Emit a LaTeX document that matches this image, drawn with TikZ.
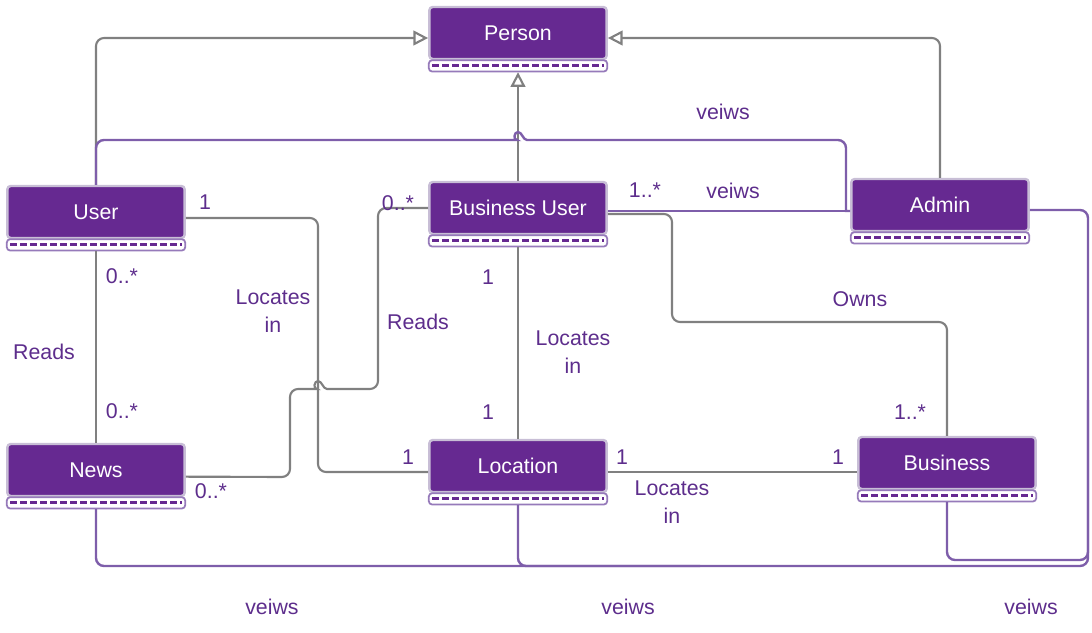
\documentclass[tikz,border=0pt]{standalone}
\usepackage{fontspec}
\setmainfont{Liberation Sans}
\usetikzlibrary{arrows.meta}

\definecolor{clsfill}{RGB}{102,41,145}
\definecolor{clsedge}{RGB}{200,190,214}
\definecolor{footrim}{RGB}{150,122,186}
\definecolor{linkgray}{RGB}{128,128,128}
\definecolor{linkpurple}{RGB}{126,94,170}
\definecolor{labelpurple}{RGB}{93,45,140}

\tikzset{every picture/.style={line width=0.75pt}}
\tikzset{
  cls/.style={draw=clsedge, fill=clsfill, line width=1.8pt, rounded corners=2.5pt,
    minimum width=133pt, minimum height=39pt, inner sep=0.75pt, text=white,
    font=\fontsize{16}{19}\selectfont},
  lbl/.style={text=labelpurple, inner sep=0.75pt, align=center,
    font=\fontsize{16}{21}\selectfont},
  foot/.style={draw=footrim, fill=white, line width=1.3pt, rounded corners=2.5pt},
  footdash/.style={draw=clsfill, line width=2.2pt, dash pattern=on 5.5pt off 2pt},
  gen/.style={draw=linkgray, line width=1.6pt, rounded corners=6pt,
    -{Triangle[open, length=11pt, width=11pt]}},
  assoc/.style={draw=linkgray, line width=1.6pt, rounded corners=6pt},
  views/.style={draw=linkpurple, line width=1.8pt, rounded corners=6pt},
}

\begin{document}
\begin{tikzpicture}[x=0.75pt,y=0.75pt,yscale=-1,xscale=1]
\useasboundingbox (0,0) rectangle (1092,632);

%Shape: Classes
\node[cls] (person) at (518,33) {Person};
\node[cls] (user) at (96,212) {User};
\node[cls] (bizuser) at (518,208) {Business User};
\node[cls] (admin) at (940,205) {Admin};
\node[cls] (news) at (96,470) {News};
\node[cls] (location) at (518,466) {Location};
\node[cls] (business) at (947,463) {Business};

%Shape: Class footers
\foreach \n in {person,user,bizuser,admin,news,location,business}{
  \draw[foot] ([xshift=0.5pt,yshift=0pt]\n.south west) rectangle ([xshift=-0.5pt,yshift=8.5pt]\n.south east);
  \draw[footdash] ([xshift=3pt,yshift=3.8pt]\n.south west) -- ([xshift=-3pt,yshift=3.8pt]\n.south east);
}

%Straight Lines: generalisation
\draw[gen] (user.north) |- ([yshift=3.75pt]person.west);
\draw[gen] (admin.north) |- ([yshift=3.75pt]person.east);
\draw[gen] (bizuser.north) -- ([yshift=9pt]person.south);

%Straight Lines: associations
\draw[assoc] ([yshift=4.5pt]user.east) -- (318,218) -- (318,472) -- ([yshift=4.5pt]location.west);
\draw[assoc] ([yshift=5pt]news.east) -- (290,477) -- (290,389) -- (309,389) [sharp corners]
  .. controls (313,389) and (314,381) .. (318,381) .. controls (322,381) and (323,389) .. (327,389)
  [rounded corners=6pt] -- (378,389) -- (378,208) -- (bizuser.west);
\draw[assoc] ([yshift=9pt]user.south) -- (news.north);
\draw[assoc] ([yshift=9pt]bizuser.south) -- (location.north);
\draw[assoc] ([yshift=4.5pt]bizuser.east) -- (672,214) -- (672,322) -- (947,322) -- (business.north);
\draw[assoc] ([yshift=4.5pt]location.east) -- ([yshift=4.5pt]location.east -| business.west);

%Straight Lines: veiws
\draw[views] (user.north) -- (96,140) -- (509,140) [sharp corners]
  .. controls (513,140) and (514,132) .. (518,132) .. controls (522,132) and (523,140) .. (527,140)
  [rounded corners=6pt] -- (846,140) [sharp corners] -- (846,211) -- ([yshift=4.5pt]admin.west);
\draw[views] ([yshift=2.25pt]bizuser.east) -- ([yshift=4.5pt]admin.west);
\draw[views] ([yshift=9pt]news.south) -- (96,566) -- (1088,566) -- (1088,210) -- ([yshift=3.75pt]admin.east);
\draw[views] ([yshift=9pt]location.south) -- (518,566) -- (700,566);
\draw[views] ([yshift=9pt]business.south) -- (947,560) -- (1088,560) -- (1088,400);

% Text Node
\node[lbl] (vwTop) at (723,112) {veiws};
% Text Node
\node[lbl] (mUserLoc) at (205,202) {1};
% Text Node
\node[lbl] (mReadsBiz) at (398,203) {0..*};
% Text Node
\node[lbl] (mBizAdmin) at (645,190) {1..*};
% Text Node
\node[lbl] (vwBiz) at (733,191) {veiws};
% Text Node
\node[lbl] (mUserNews) at (122,276) {0..*};
% Text Node
\node[lbl] (locUser) at (273,311) {Locates\\in};
% Text Node
\node[lbl] (readsBiz) at (418,322) {Reads};
% Text Node
\node[lbl] (mBizLoc) at (488,277) {1};
% Text Node
\node[lbl] (owns) at (860,299) {Owns};
% Text Node
\node[lbl] (readsUser) at (44,352) {Reads};
% Text Node
\node[lbl] (locBiz) at (573,352) {Locates\\in};
% Text Node
\node[lbl] (mNewsUser) at (122,411) {0..*};
% Text Node
\node[lbl] (mLocBiz) at (488,412) {1};
% Text Node
\node[lbl] (mOwns) at (910,412) {1..*};
% Text Node
\node[lbl] (mLocUser) at (408,457) {1};
% Text Node
\node[lbl] (mLocBus) at (622,457) {1};
% Text Node
\node[lbl] (mBusLoc) at (838,457) {1};
% Text Node
\node[lbl] (mNewsReads) at (211,491) {0..*};
% Text Node
\node[lbl] (locBus) at (672,502) {Locates\\in};
% Text Node
\node[lbl] (vwNews) at (272,607) {veiws};
% Text Node
\node[lbl] (vwLoc) at (628,607) {veiws};
% Text Node
\node[lbl] (vwBus) at (1031,607) {veiws};

\end{tikzpicture}
\end{document}
